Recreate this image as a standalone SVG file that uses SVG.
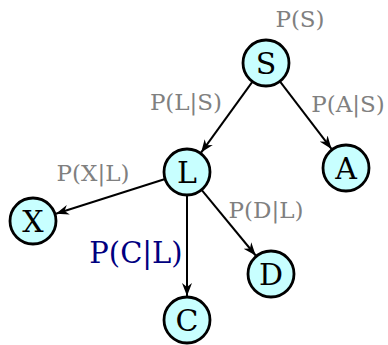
<svg xmlns="http://www.w3.org/2000/svg" width="388" height="345" viewBox="0 0 388 345">
<style>
.node circle{fill:#c8ffff;stroke:#000;stroke-width:2.8}
.node text{font-family:"DejaVu Serif",serif;font-size:30px;text-anchor:middle;dominant-baseline:central;fill:#000}
.lbl{font-family:"DejaVu Serif",serif;font-size:23px;fill:#808080;text-anchor:middle}
.edge{stroke:#000;stroke-width:2;fill:none;marker-end:url(#ah)}
</style>
<defs>
<marker id="ah" markerUnits="userSpaceOnUse" markerWidth="14" markerHeight="12" refX="13" refY="6" orient="auto">
<path d="M0,1 L13,6 L0,11 L4,6 z" fill="#000"/>
</marker>
</defs>
<g id="edges">
<line class="edge" x1="252.5" y1="81.6" x2="201.1" y2="152.6"/>
<line class="edge" x1="279.9" y1="81.3" x2="331.5" y2="148.9"/>
<line class="edge" x1="165.1" y1="179" x2="55.9" y2="213.7"/>
<line class="edge" x1="187" y1="195" x2="187" y2="296"/>
<line class="edge" x1="201.6" y1="189.8" x2="255.7" y2="255.5"/>
</g>
<g id="labels">
<text class="lbl" x="300" y="27">P(S)</text>
<text class="lbl" x="186" y="110">P(L|S)</text>
<text class="lbl" x="348" y="112">P(A|S)</text>
<text class="lbl" x="93" y="181">P(X|L)</text>
<text class="lbl" x="266" y="218">P(D|L)</text>
<text x="136" y="263" text-anchor="middle" style="font-family:'DejaVu Serif',serif;font-size:29px;fill:#000080">P(C|L)</text>
</g>
<g id="S" class="node"><circle cx="266" cy="63" r="23"/><text x="266" y="63">S</text></g>
<g id="L" class="node"><circle cx="187" cy="172" r="23"/><text x="187" y="172">L</text></g>
<g id="A" class="node"><circle cx="346" cy="168" r="23"/><text x="346" y="168">A</text></g>
<g id="X" class="node"><circle cx="33" cy="221" r="23"/><text x="33" y="221">X</text></g>
<g id="D" class="node"><circle cx="271" cy="274" r="23"/><text x="271" y="274">D</text></g>
<g id="C" class="node"><circle cx="187" cy="320" r="23"/><text x="187" y="320">C</text></g>
</svg>
